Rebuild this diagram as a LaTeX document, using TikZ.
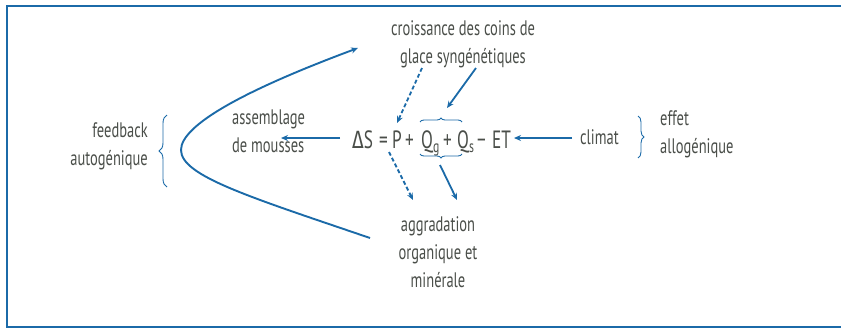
\documentclass[tikz,border=0pt]{standalone}
\usepackage{fontspec}
\setmainfont[FakeStretch=0.69]{PT Sans}
\newfontfamily\grk[FakeStretch=0.8]{Fira Sans}
\usetikzlibrary{arrows.meta,decorations.pathreplacing}
\definecolor{fblue}{HTML}{1B6AA8}
\definecolor{ftext}{HTML}{4A4E49}
\tikzset{
  lbl/.style={text=ftext,font=\fontsize{21}{28}\selectfont,inner sep=0pt,align=center},
  tok/.style={text=ftext,font=\fontsize{25}{25}\selectfont,inner sep=0pt,anchor=base west},
  solidarr/.style={draw=fblue,line width=1.8pt,-{Stealth[length=7pt,width=6pt]}},
  dasharr/.style={draw=fblue,line width=1.8pt,dash pattern=on 4pt off 2.5pt,-{Stealth[length=7pt,width=6pt]}},
  bracedec/.style={draw=fblue,line width=0.9pt,decorate,decoration={brace,amplitude=#1}},
}
\newcommand{\subg}[1]{\raisebox{-0.32ex}{\fontsize{17}{17}\selectfont #1}}
\begin{document}
\begin{tikzpicture}[x=1pt,y=1pt]
\useasboundingbox (0,0) rectangle (841,-330);
% frame
\draw[fblue,line width=1.4pt] (841,-6) -- (7,-6) -- (7,-327) -- (841,-327);

% labels (anchor base = baseline of the last line)
\node[lbl,anchor=base] (croiss) at (463,-63) {croissance des coins de\\glace syngénétiques};
\node[lbl,anchor=base west,align=left] (assem) at (232,-152) {assemblage\\de mousses};
\node[lbl,anchor=base east,align=right] (feed) at (148,-165) {feedback\\autogénique};
\node[lbl,anchor=base west] (climat) at (580,-144) {climat};
\node[lbl,anchor=base west,align=left] (effet) at (660,-153) {effet\\allogénique};
\node[lbl,anchor=base] (aggr) at (438,-287) {aggradation\\organique et\\minérale};

% equation tokens
\node[tok] (ds) at (352,-148) {{\grk Δ}S};
\node[tok] (eq) at (379,-148) {=};
\node[tok] (p) at (392,-148) {P};
\node[tok] (pl1) at (405,-148) {+};
\node[tok] (qg) at (421,-148) {Q\subg{g}};
\node[tok] (pl2) at (443,-148) {+};
\node[tok] (qs) at (457,-148) {Q\subg{s}};
\node[tok] (mi) at (477,-148) {−};
\node[tok] (et) at (492,-148) {ET};

% braces
\coordinate (tbl) at (420,-122);
\coordinate (tbr) at (462,-122);
\coordinate (bbl) at (420,-154);
\coordinate (bbr) at (462,-154);
\draw[bracedec=4pt] (tbl) -- (tbr);
\draw[bracedec=4pt] (bbr) -- (bbl);
\draw[bracedec=8pt] (167,-187) -- (167,-115);
\draw[bracedec=6pt] (638,-116) -- (638,-158);

% arrows
\coordinate (c1) at (572,-138);
\coordinate (c2) at (514,-138);
\draw[solidarr] (c1) -- (c2);
\coordinate (d1) at (340,-138);
\coordinate (d2) at (281,-138);
\draw[solidarr] (d1) -- (d2);
\coordinate (u1) at (422,-68);
\coordinate (u2) at (397,-123);
\draw[dasharr] (u1) -- (u2);
\coordinate (v1) at (476,-68);
\coordinate (v2) at (447,-108);
\draw[solidarr] (v1) -- (v2);
\coordinate (w1) at (389,-152);
\coordinate (w2) at (413,-200);
\draw[dasharr] (w1) -- (w2);
\coordinate (z1) at (440,-165);
\coordinate (z2) at (457,-200);
\draw[solidarr] (z1) -- (z2);

% feedback curve
\coordinate (k1) at (370,-238);
\coordinate (k2) at (181,-150);
\coordinate (k3) at (358,-48);
\draw[fblue,line width=1.9pt,-{Stealth[length=7pt,width=6pt]}]
  (k1) .. controls (250,-197) and (181,-176) .. (k2)
       .. controls (181,-125) and (245,-90) .. (k3);
\end{tikzpicture}
\end{document}
